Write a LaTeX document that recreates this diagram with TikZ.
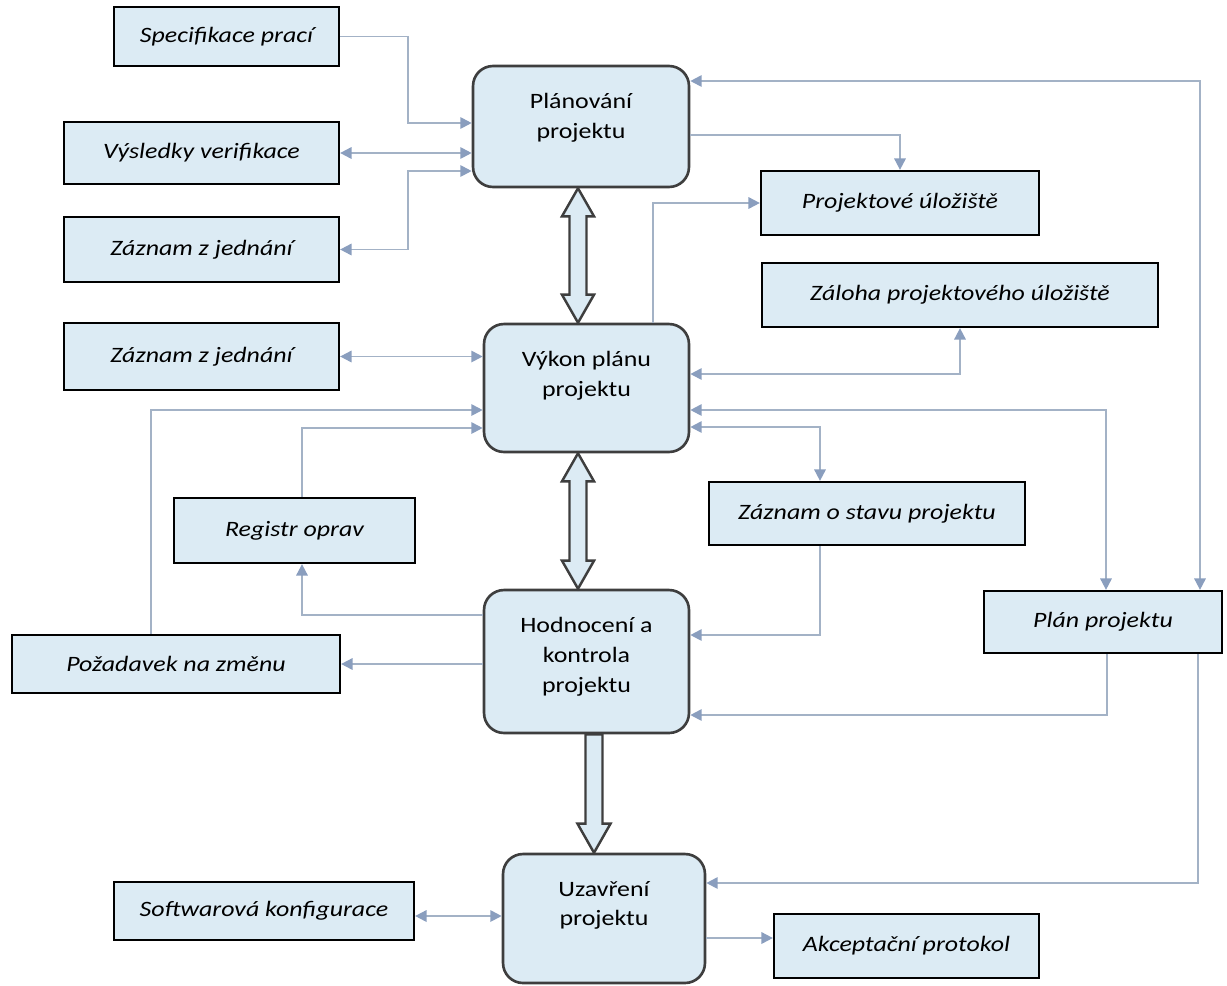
\documentclass[tikz,border=0pt]{standalone}
\usepackage{fontspec}
\setmainfont{Carlito}[FakeStretch=1.18]
\usetikzlibrary{arrows.meta,calc}

\definecolor{boxfill}{RGB}{220,235,244}
\definecolor{linkgray}{RGB}{163,178,198}
\definecolor{tipgray}{RGB}{138,158,190}
\definecolor{framegray}{RGB}{62,62,62}

\tikzset{
  doc/.style={rectangle,draw=black,line width=1.3pt,fill=boxfill,inner sep=0pt,
    font=\fontsize{12.5}{17}\selectfont\itshape},
  proc/.style={rectangle,rounded corners=0.4cm,draw=framegray,line width=1.5pt,
    fill=boxfill,inner sep=0pt},
  proctext/.style={anchor=north,yshift=-0.56cm,align=center,inner sep=0pt,
    font=\fontsize{12.5}{17}\selectfont},
  link/.style={draw=linkgray,line width=1.1pt,
    >={Triangle[length=6.5pt,width=6.5pt,color=tipgray]}},
  fatarrow/.style={draw=framegray,fill=boxfill,line width=1.4pt,line join=miter}
}

\begin{document}
\begin{tikzpicture}
[x=0.02cm,y=-0.02cm]
\useasboundingbox (0,0) rectangle (1227,985);

\node[proc,minimum width=4.32cm,minimum height=2.42cm,label={[proctext]north:Plánování\\projektu}] (plan) at (581,126.5) {};
\node[proc,minimum width=4.1cm,minimum height=2.56cm,label={[proctext]north:Výkon plánu\\projektu}] (vykon) at (586.5,388) {};
\node[proc,minimum width=4.1cm,minimum height=2.86cm,label={[proctext]north:Hodnocení a\\kontrola\\projektu}] (hodn) at (586.5,661.5) {};
\node[proc,minimum width=4.04cm,minimum height=2.58cm,label={[proctext]north:Uzavření\\projektu}] (uzav) at (604,918.5) {};

\node[doc,minimum width=4.5cm,minimum height=1.18cm] (spec) at (226.5,36.5) {Specifikace prací};
\node[doc,minimum width=5.5cm,minimum height=1.24cm] (vysl) at (201.5,153) {Výsledky verifikace};
\node[doc,minimum width=5.5cm,minimum height=1.3cm] (zaz1) at (201.5,249.5) {Záznam z jednání};
\node[doc,minimum width=5.5cm,minimum height=1.34cm] (zaz2) at (201.5,356.5) {Záznam z jednání};
\node[doc,minimum width=4.82cm,minimum height=1.3cm] (reg) at (294.5,530.5) {Registr oprav};
\node[doc,minimum width=6.56cm,minimum height=1.16cm] (poz) at (176,664) {Požadavek na změnu};
\node[doc,minimum width=6cm,minimum height=1.16cm] (soft) at (264,911) {Softwarová konfigurace};
\node[doc,minimum width=5.56cm,minimum height=1.28cm] (uloz) at (900,203) {Projektové úložiště};
\node[doc,minimum width=7.92cm,minimum height=1.28cm] (zal) at (960,295) {Záloha projektového úložiště};
\node[doc,minimum width=6.32cm,minimum height=1.26cm] (stav) at (867,513.5) {Záznam o stavu projektu};
\node[doc,minimum width=4.76cm,minimum height=1.24cm] (planp) at (1103,622) {Plán projektu};
\node[doc,minimum width=5.3cm,minimum height=1.28cm] (akc) at (906.5,946) {Akceptační protokol};

\coordinate (ax) at (578,0);
\coordinate (bx) at (594,0);
\foreach \a/\b in {plan/vykon,vykon/hodn}
{
\coordinate (top) at (ax |- \a.south);
\coordinate (bot) at (ax |- \b.north);
\draw[fatarrow] (top) -- ++(16,28) -- ++(-7.5,0) -- ($(bot)+(8.5,-28)$) -- ++(7.5,0) -- (bot)
  -- ++(-16,-28) -- ++(7.5,0) -- ($(top)+(-8.5,28)$) -- ++(-7.5,0) -- cycle;
}
\coordinate (top) at (bx |- hodn.south);
\coordinate (bot) at (bx |- uzav.north);
\draw[fatarrow] ($(top)+(8.5,0)$) -- ($(bot)+(8.5,-29)$) -- ++(8,0) -- (bot) -- ++(-16.5,-29)
  -- ++(8,0) -- ($(top)+(-8.5,0)$) -- cycle;

\foreach \from/\to in {vysl/plan,zaz2/vykon}
\draw[link,<->] (\from.east) -- (\to.west |- \from.east);

\draw[link,->] (spec.east) -| (408,123) -- (plan.west |- 0,123);
\draw[link,<->] (zaz1.east) -| (408,171) -- (plan.west |- 0,171);
\draw[link,->] (plan.east |- 0,135) -| (uloz.north);
\draw[link,<->] (plan.east |- 0,81) -| (planp.north -| 1200,0);
\draw[link,->] (vykon.north -| 653,0) |- (uloz.west);
\draw[link,<->] (vykon.east |- 0,374) -| (zal.south);
\draw[link,<->] (vykon.east |- 0,410) -| (planp.north -| 1106,0);
\draw[link,<->] (vykon.east |- 0,427) -| (stav.north -| 820,0);
\draw[link,->] (reg.north -| 302,0) |- (vykon.west |- 0,428);
\draw[link,->] (poz.north -| 151,0) |- (vykon.west |- 0,410);
\draw[link,->] (hodn.west |- 0,615) -| (reg.south -| 302,0);
\draw[link,->] (hodn.west |- poz.east) -- (poz.east);
\draw[link,->] (stav.south -| 820,0) |- (hodn.east |- 0,635);
\draw[link,->] (planp.south -| 1107,0) |- (hodn.east |- 0,715);
\draw[link,->] (planp.south -| 1198,0) |- (uzav.east |- 0,883);
\draw[link,<->] (soft.east |- 0,916) -- (uzav.west |- 0,916);
\draw[link,->] (uzav.east |- 0,938) -- (akc.west |- 0,938);
\end{tikzpicture}
\end{document}
